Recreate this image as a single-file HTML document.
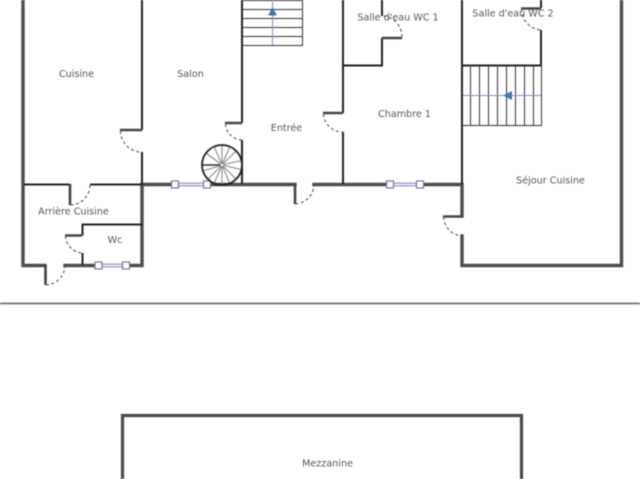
<!DOCTYPE html>
<html><head><meta charset="utf-8"><style>
html,body{margin:0;padding:0;background:#fff;width:640px;height:479px;overflow:hidden}
svg{display:block;filter:blur(.45px)}
text{font-family:"DejaVu Sans","Liberation Sans",sans-serif;font-size:9.6px;fill:#555;text-anchor:middle}
.t{stroke:#222;stroke-width:2;fill:none}
.w{stroke:#4d4d4d;stroke-width:3.4;fill:none;stroke-linecap:square}
.m{stroke:#444;stroke-width:2.6;fill:none}
.d{stroke:#444;stroke-width:1;fill:none;stroke-dasharray:3 2.5}
.s{stroke:#333;stroke-width:1;fill:none}
.g{stroke:#999;stroke-width:1.2}
.wb{fill:#fff;stroke:#77779a;stroke-width:1.2}
.wl{stroke:#9a98d8;stroke-width:3.4}
</style></head><body>
<svg width="640" height="479" viewBox="0 0 640 479" xmlns="http://www.w3.org/2000/svg">
<rect width="640" height="479" fill="#fff"/>
<!-- outer walls -->
<path class="w" d="M23 -2V265.500H45M65 265.500H142V184.500"/>
<path class="w" d="M142 184.500H295M314 184.500H462V216M462 236V265.500H621.500V-2"/>
<!-- thin walls -->
<path class="t" d="M142 -2V130M142 152V184"/>
<path class="t" d="M242 -2V123M242 140V184"/>
<path class="t" d="M343 -2V113M343 132V184"/>
<path class="t" d="M462 -2V184"/>
<path class="t" d="M382 -2V16M382 38V65.500H343"/>
<path class="t" d="M541 -2V8M541 30V65.500H462"/>
<path class="t" d="M24 184.500H70M90 184.500H142"/>
<path class="t" d="M142 224.500H82.500V235.500M82.500 253V265"/>
<!-- door leaves -->
<path class="m" d="M120 130H142"/>
<path class="m" d="M225 123H242"/>
<path class="m" d="M323 113H343"/>
<path class="m" d="M382 38H402"/>
<path class="m" d="M521 8.500H541"/>
<path class="m" d="M443 216.500H462"/>
<path class="m" d="M65 235.500H82"/>
<path class="m" d="M70 184V205"/>
<path class="m" d="M295 184V204"/>
<path class="m" d="M45.500 265V285"/>
<!-- door arcs -->
<path class="d" d="M120.500 131A21 21 0 0 0 142 152"/>
<path class="d" d="M225.500 124A17 17 0 0 0 242 140"/>
<path class="d" d="M323.500 114A19 19 0 0 0 343 132"/>
<path class="d" d="M402 37A21 21 0 0 0 384 16"/>
<path class="d" d="M521.500 9A21 21 0 0 0 541 30"/>
<path class="d" d="M443.500 217A20 20 0 0 0 462 236"/>
<path class="d" d="M65.500 236A18 18 0 0 0 82 253"/>
<path class="d" d="M70.500 205A20 20 0 0 0 90 185"/>
<path class="d" d="M295.500 204A20 20 0 0 0 314 185"/>
<path class="d" d="M46 285A20 20 0 0 0 65 266"/>
<!-- windows -->
<path class="wl" d="M175 184.500H207M390 184.500H420M98 265.500H126"/>
<path d="M175 184.500H207M390 184.500H420M98 265.500H126" stroke="#fff" stroke-width="1.2"/>
<rect class="wb" x="171.500" y="181" width="7" height="7"/><rect class="wb" x="203.500" y="181" width="7" height="7"/>
<rect class="wb" x="386.500" y="181" width="7" height="7"/><rect class="wb" x="416.500" y="181" width="7" height="7"/>
<rect class="wb" x="95" y="262" width="7" height="7"/><rect class="wb" x="122.500" y="262" width="7" height="7"/>
<!-- top stairs -->
<path class="s" d="M243 0.500H302.500V45.500H243M243 9.500H302.500M243 18.500H302.500M243 27.500H302.500M243 36.500H302.500"/>
<path d="M272.500 0V45" stroke="#7d93bd" stroke-width="1"/>
<path d="M272.500 7L268 15.500H277Z" fill="#4472b8"/>
<!-- right stairs -->
<path class="s" d="M463 125.500H541.500V66M470.500 66V125M479.500 66V125M488.500 66V125M497.500 66V125M506.500 66V125M515.500 66V125M524.500 66V125M533.500 66V125"/>
<path d="M463 95.500H541" stroke="#7d93bd" stroke-width="1"/>
<path d="M503 95.500L512 91V100Z" fill="#4472b8"/>
<!-- spiral stair -->
<g fill="none">
<g stroke="#8a8a8a" stroke-width="1.100">
<path d="M222 165L222 145M222 165L229.800 146.600M222 165L236.100 150.900M222 165L241.500 160.500M222 165L241.500 169.500M222 165L236.100 179.100M222 165L229.800 183.400M222 165L222 185M222 165L214.200 183.400M222 165L207.900 179.100M222 165L203 171M222 165L206 153M222 165L214.200 146.600"/>
</g>
<path d="M202 165H222" stroke="#333" stroke-width="1.400"/>
<circle cx="222" cy="165" r="20" stroke="#222" stroke-width="1.800"/>
<circle cx="222" cy="165" r="1.800" fill="#fff" stroke="#777" stroke-width=".8"/>
</g>
<!-- separator -->
<path d="M0 303.500H640" stroke="#707070" stroke-width="1.800"/>
<!-- mezzanine -->
<path d="M122.500 481V415.500H521.500V481" fill="none" stroke="#4d4d4d" stroke-width="3.200"/>
<!-- labels -->
<text x="76.500" y="77">Cuisine</text>
<text x="190.500" y="77">Salon</text>
<text x="286.500" y="131">Entrée</text>
<text x="398" y="20.500">Salle d'eau WC 1</text>
<text x="513" y="16.500">Salle d'eau WC 2</text>
<text x="404.500" y="117">Chambre 1</text>
<text x="550.500" y="183.500">Séjour Cuisine</text>
<text x="73.500" y="214.500">Arrière Cuisine</text>
<text x="115" y="243">Wc</text>
<text x="327.500" y="466.500">Mezzanine</text>
</svg>
</body></html>
